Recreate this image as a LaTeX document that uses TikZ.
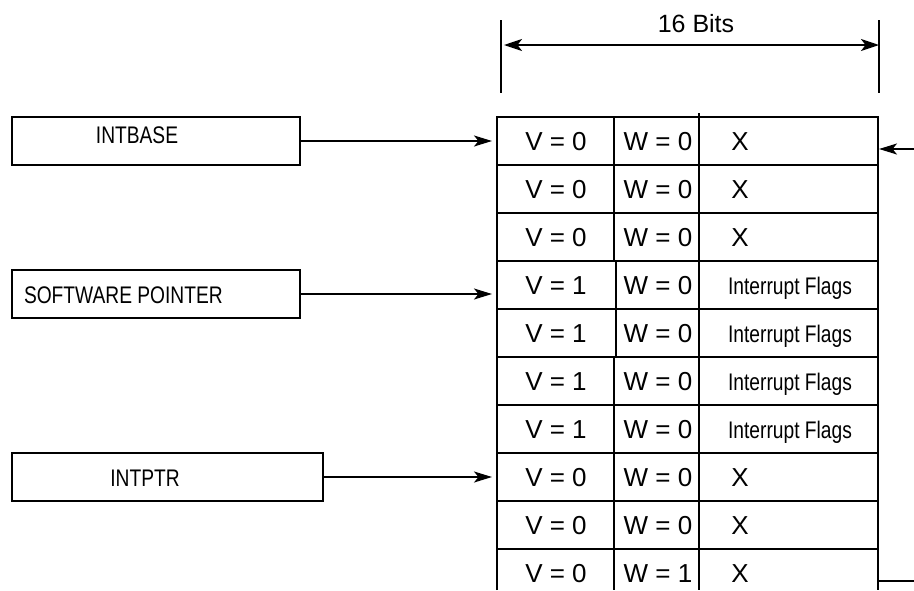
\documentclass[tikz,border=0pt]{standalone}
\usepackage{fontspec}
\setmainfont{Liberation Sans}
\newfontfamily\narrowfont[FakeStretch=0.8]{Liberation Sans}
\usetikzlibrary{arrows.meta}
\begin{document}
\begin{tikzpicture}[x=1pt,y=-1pt,line width=2pt,
  tip/.style={-{Stealth[length=18pt,width=11pt,inset=4.5pt]}},
  dbltip/.style={{Stealth[length=18pt,width=12pt,inset=4.5pt]}-{Stealth[length=18pt,width=12pt,inset=4.5pt]}},
  cell/.style={anchor=base,inner sep=0pt,font=\fontsize{26}{30}\selectfont},
  flag/.style={anchor=base,inner sep=0pt,font=\narrowfont\fontsize{24}{28}\selectfont},
  lbl/.style={anchor=base,inner sep=0pt,font=\narrowfont\fontsize{24}{28}\selectfont},
  regbox/.style={draw,line width=2pt,inner sep=0pt,minimum height=48pt}]
\useasboundingbox (0,0) rectangle (914,590);

% left register boxes
\node[regbox,minimum width=288pt] (intbase) at (156,141) {};
\node[lbl] (intbaseT) at (137,143) {INTBASE};
\node[regbox,minimum width=288pt] (swp) at (156,294) {};
\node[lbl,anchor=base west] (swpT) at (23,303) {SOFTWARE POINTER};
\node[regbox,minimum width=311pt] (intptr) at (167.5,477) {};
\node[lbl] (intptrT) at (145,486) {INTPTR};

% arrow targets
\coordinate (ibtip) at (492,141);
\coordinate (swtip) at (492,294);
\coordinate (iptip) at (492,477);
\draw[tip] (intbase.east) -- (ibtip);
\draw[tip] (swp.east) -- (swtip);
\draw[tip] (intptr.east) -- (iptip);

% width dimension
\coordinate (tlA) at (501,20); \coordinate (tlB) at (501,93);
\coordinate (trA) at (879,20); \coordinate (trB) at (879,93);
\draw (tlA) -- (tlB);
\draw (trA) -- (trB);
\coordinate (dimL) at (504,45); \coordinate (dimR) at (879,45);
\draw[dbltip] (dimL) -- (dimR);
\node[anchor=base,inner sep=0pt,font=\fontsize{25}{30}\selectfont] (bits) at (696,32) {16 Bits};

% table frame
\draw (497,590) -- (497,117) -- (878,117) -- (878,590);
\draw (699,113) -- (699,590);
\foreach \y in {165,213,261,309,357,405,453,501,549}
  \draw (497,\y) -- (878,\y);
% first divider, per row
\draw (614,117) -- (614,261);
\draw (616,261) -- (616,357);
\draw (614,357) -- (614,590);

% cell texts
\foreach \i/\v/\w in {0/0/0,1/0/0,2/0/0,7/0/0,8/0/0,9/0/1}{
  \node[cell] (v\i) at (556,{150+48*\i}) {V = \v};
  \node[cell] (w\i) at (658,{150+48*\i}) {W = \w};
  \node[cell] (x\i) at (740,{150+48*\i}) {X};
}
\foreach \i in {3,4,5,6}{
  \node[cell] (v\i) at (556,{150+48*\i}) {V = 1};
  \node[cell] (w\i) at (658,{150+48*\i}) {W = 0};
  \node[flag] (x\i) at (790,{150+48*\i}) {Interrupt Flags};
}

% right side connectors
\coordinate (rin) at (914,149);
\coordinate (rinT) at (879,149);
\draw[tip] (rin) -- (rinT);
\coordinate (routA) at (879,581);
\coordinate (routB) at (914,581);
\draw (routA) -- (routB);
\end{tikzpicture}
\end{document}
